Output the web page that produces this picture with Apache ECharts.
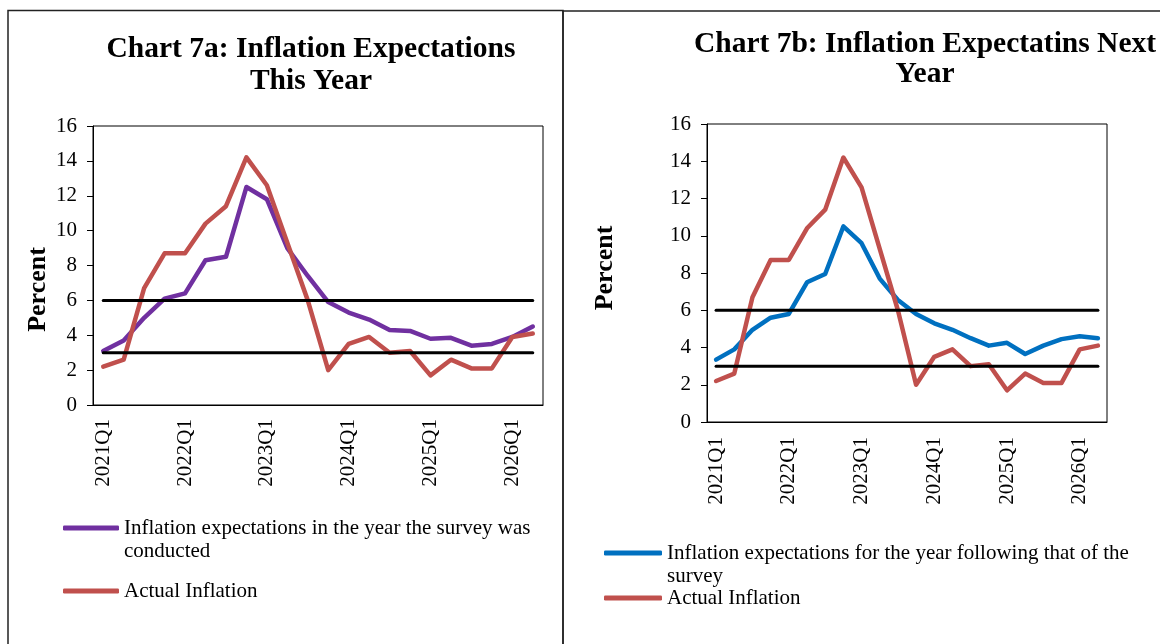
<!DOCTYPE html>
<html>
<head>
<meta charset="utf-8">
<script src="https://cdn.jsdelivr.net/npm/echarts@6/dist/echarts.min.js"></script>
<style>
  html, body { margin: 0; padding: 0; background: #fff; }
  #main { width: 1160px; height: 644px; }
</style>
</head>
<body>
<div id="main"></div>
<script>
// quarters on the x axis
const quarters = [
  '2021Q1', '2021Q2', '2021Q3', '2021Q4',
  '2022Q1', '2022Q2', '2022Q3', '2022Q4',
  '2023Q1', '2023Q2', '2023Q3', '2023Q4',
  '2024Q1', '2024Q2', '2024Q3', '2024Q4',
  '2025Q1', '2025Q2', '2025Q3', '2025Q4',
  '2026Q1', '2026Q2'
];

// chart 7a: expectations for the year of the survey
const expectThisYear = [3.1, 3.7, 5.0, 6.1, 6.4, 8.3, 8.5, 12.5, 11.8, 9.0, 7.4, 5.9, 5.3, 4.9, 4.3, 4.25, 3.8, 3.85, 3.4, 3.5, 3.9, 4.5];
// chart 7b: expectations for the following year
const expectNextYear = [3.35, 3.9, 4.95, 5.6, 5.8, 7.5, 7.95, 10.5, 9.6, 7.7, 6.55, 5.8, 5.3, 4.95, 4.5, 4.1, 4.25, 3.65, 4.1, 4.45, 4.6, 4.5];
// actual inflation (same in both charts)
const actualInflation = [2.2, 2.6, 6.7, 8.7, 8.7, 10.4, 11.4, 14.2, 12.6, 9.3, 6.0, 2.0, 3.5, 3.9, 3.0, 3.1, 1.7, 2.6, 2.1, 2.1, 3.9, 4.1];
// target band
const bandUpper = [6, 6, 6, 6, 6, 6, 6, 6, 6, 6, 6, 6, 6, 6, 6, 6, 6, 6, 6, 6, 6, 6];
const bandLower = [3, 3, 3, 3, 3, 3, 3, 3, 3, 3, 3, 3, 3, 3, 3, 3, 3, 3, 3, 3, 3, 3];
const yTicks = { min: 0, max: 16, interval: 2 };

const SERIF = "'Liberation Serif', 'Times New Roman', serif";
const nameThis = 'Inflation expectations in the year the survey was conducted';
const nameNext = 'Inflation expectations for the year following that of the survey';
const nameActual = 'Actual Inflation';
const legendText = {};
legendText[nameThis] = '\nInflation expectations in the year the survey was\nconducted';
legendText[nameNext] = '\nInflation expectations for the year following that of the\nsurvey';
legendText[nameActual] = 'Actual Inflation';

const xAxisOpt = (gridIndex, margin) => ({
  type: 'category',
  gridIndex,
  data: quarters,
  boundaryGap: true,
  axisLine: { lineStyle: { color: '#000', width: 1 } },
  axisTick: { interval: 1, length: 5, lineStyle: { color: '#000' } },
  axisLabel: {
    interval: 3,
    rotate: 90,
    margin,
    color: '#000',
    fontSize: 21,
    fontFamily: SERIF
  },
  splitLine: { show: false }
});

const yAxisOpt = (gridIndex, nameGap, pad) => ({
  type: 'value',
  gridIndex,
  min: yTicks.min,
  max: yTicks.max,
  interval: yTicks.interval,
  name: 'Percent',
  nameLocation: 'middle',
  nameGap,
  nameTextStyle: {
    color: '#000',
    fontSize: 26,
    fontWeight: 'bold',
    fontFamily: SERIF,
    padding: pad
  },
  axisLine: { show: true, lineStyle: { color: '#000', width: 1 } },
  axisTick: { show: true, length: 6, lineStyle: { color: '#000' } },
  axisLabel: { margin: 16, color: '#000', fontSize: 21, fontFamily: SERIF },
  splitLine: { show: false }
});

const lineSeries = (name, data, color, idx, width) => ({
  name,
  type: 'line',
  data,
  xAxisIndex: idx,
  yAxisIndex: idx,
  symbol: 'none',
  silent: true,
  lineStyle: { color, width, cap: 'round', join: 'round' },
  itemStyle: { color }
});

const legendOpt = (name, left, top, itemWidth) => ({
  data: [name],
  left,
  top,
  orient: 'vertical',
  padding: 0,
  icon: 'roundRect',
  itemWidth,
  itemHeight: 5,
  selectedMode: false,
  formatter: n => legendText[n],
  textStyle: { color: '#000', fontSize: 21, lineHeight: 23, fontFamily: SERIF }
});

const titleText = (x, y, text, lineHeight) => ({
  type: 'text',
  x,
  y,
  style: {
    text,
    align: 'center',
    verticalAlign: 'top',
    fill: '#000',
    font: 'bold 29.5px ' + SERIF,
    lineHeight
  }
});

const option = {
  backgroundColor: '#fff',
  animation: false,
  graphic: [
    { type: 'rect', shape: { x: 8, y: 10.5, width: 555, height: 700 }, style: { fill: 'none', stroke: '#222', lineWidth: 1.5 } },
    { type: 'rect', shape: { x: 563, y: 11, width: 700, height: 700 }, style: { fill: 'none', stroke: '#222', lineWidth: 1.5 } },
    titleText(311, 33, 'Chart 7a: Inflation Expectations\nThis Year', 32),
    titleText(925, 29, 'Chart 7b: Inflation Expectatins Next\nYear', 30)
  ],
  legend: [
    legendOpt(nameThis, 63, 493.5, 56),
    legendOpt(nameActual, 63, 579.5, 56),
    legendOpt(nameNext, 604, 518.5, 58),
    legendOpt(nameActual, 604, 586.5, 58)
  ],
  grid: [
    { left: 93, right: 617, top: 126, bottom: 239, show: true, borderColor: '#000', borderWidth: 1, backgroundColor: 'transparent' },
    { left: 707, right: 53, top: 124, bottom: 222, show: true, borderColor: '#000', borderWidth: 1, backgroundColor: 'transparent' }
  ],
  xAxis: [xAxisOpt(0, 14), xAxisOpt(1, 15)],
  yAxis: [yAxisOpt(0, 42, [0, 48, 0, 0]), yAxisOpt(1, 89, [0, 0, 0, 10])],
  series: [
    lineSeries(nameThis, expectThisYear, '#7030A0', 0, 4.5),
    lineSeries(nameActual, actualInflation, '#C0504D', 0, 4.5),
    lineSeries('upper0', bandUpper, '#000', 0, 3),
    lineSeries('lower0', bandLower, '#000', 0, 3),
    lineSeries(nameNext, expectNextYear, '#0070C0', 1, 4.5),
    lineSeries(nameActual, actualInflation, '#C0504D', 1, 4.5),
    lineSeries('upper1', bandUpper, '#000', 1, 3),
    lineSeries('lower1', bandLower, '#000', 1, 3)
  ]
};

const chart = echarts.init(document.getElementById('main'), null, { renderer: 'canvas' });
chart.setOption(option);
</script>
</body>
</html>
